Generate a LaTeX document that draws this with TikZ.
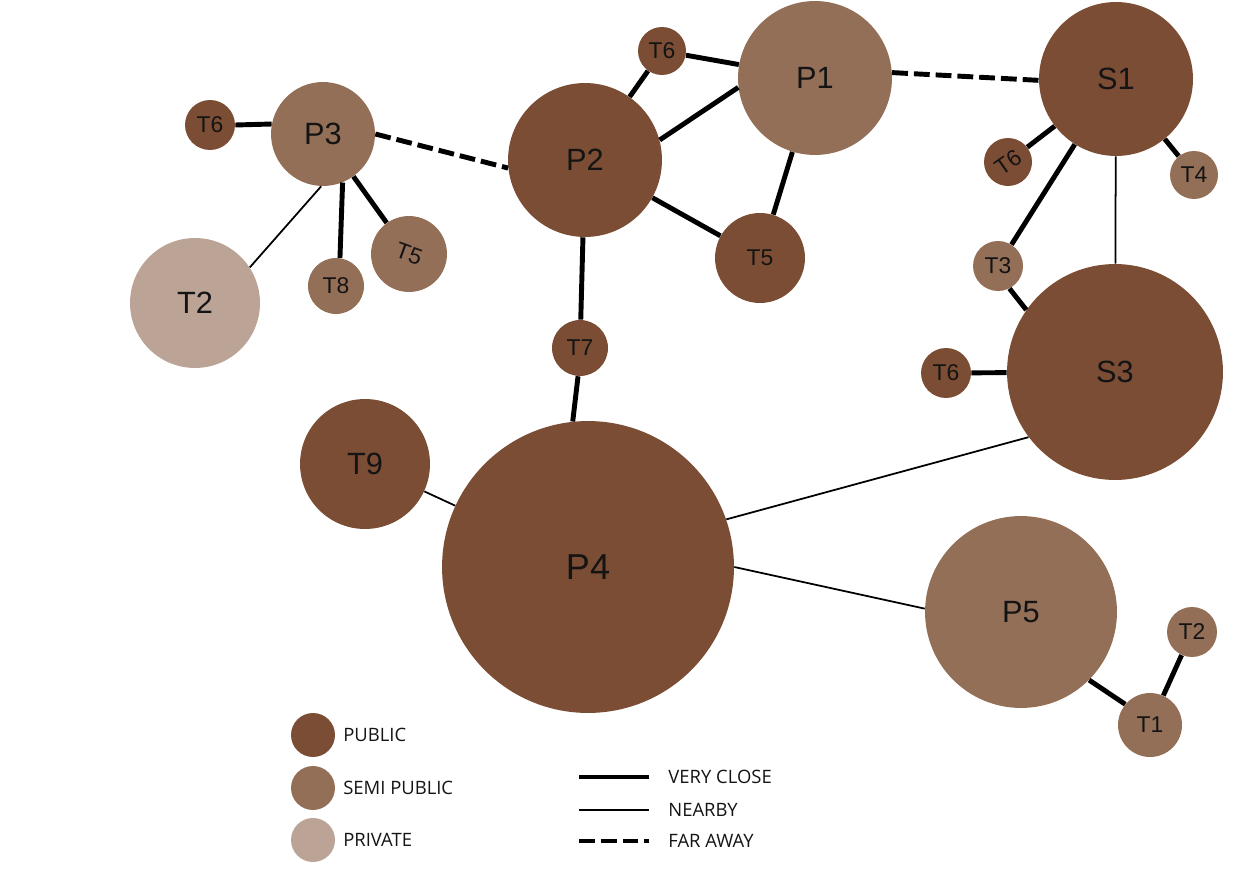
\documentclass[tikz,border=0pt]{standalone}
\usepackage{fontspec}
\setmainfont{Liberation Sans}
\newfontfamily\legendfont{Open Sans}
\usetikzlibrary{
    positioning
}
\definecolor{public}{HTML}{7B4D34}
\definecolor{semipublic}{HTML}{946F58}
\definecolor{private}{HTML}{BBA395}
\definecolor{ink}{HTML}{141414}

\begin{document}
\begin{tikzpicture}[x=0.02cm, y=-0.02cm,
    spot/.style={circle, inner sep=0pt, minimum size=#1*0.04cm, text=ink,
        font=\fontsize{13}{13}\selectfont},
    big/.style={font=\fontsize{17.5}{17.5}\selectfont},
    pub/.style={spot=#1, fill=public},
    semi/.style={spot=#1, fill=semipublic},
    priv/.style={spot=#1, fill=private},
    veryclose/.style={line width=2.8pt},
    nearby/.style={line width=1pt},
    faraway/.style={line width=2.8pt, dash pattern=on 9pt off 3.4pt},
    legend/.style={anchor=west, text=ink, font=\legendfont\fontsize{10.5}{10.5}\selectfont}]
                            \useasboundingbox (0,0) rectangle (1246,881);
                            \node[semi=77, big] (p1) at (815,78) {P1};
                            \node[pub=24] (t6a) at (662,51) {T6};
                            \node[pub=77, big] (p2) at (585,160) {P2};
                            \node[pub=77, big] (s1) at (1116,79) {S1};
                            \node[pub=24, rotate=35] (t6b) at (1008,162) {T6};
                            \node[semi=24] (t4) at (1194,175) {T4};
                            \node[semi=52, big] (p3) at (323,134) {P3};
                            \node[pub=25] (t6c) at (210,125) {T6};
                            \node[semi=38, rotate=-20] (t5a) at (409,254) {T5};
                            \node[semi=28] (t8) at (336,286) {T8};
                            \node[priv=65, big] (t2a) at (195,303) {T2};
                            \node[pub=45] (t5b) at (760,258) {T5};
                            \node[pub=28] (t7) at (580,348) {T7};
                            \node[semi=25] (t3) at (998,266) {T3};
                            \node[pub=108, big] (s3) at (1115,372) {S3};
                            \node[pub=25] (t6d) at (946,373) {T6};
                            \node[pub=65, big] (t9) at (365,464) {T9};
                            \node[pub=146, font=\fontsize{20.5}{20.5}\selectfont] (p4) at (588,567) {P4};
                            \node[semi=96, big] (p5) at (1021,612) {P5};
                            \node[semi=25] (t2b) at (1192,632) {T2};
                            \node[semi=32] (t1) at (1150,725) {T1};
                            \draw
                            (t6c.east) edge[veryclose] (p3.169)
                            (p3.292) edge[veryclose] (t8.82)
                            (p3) edge[veryclose] (t5a)
                            (p3.268) edge[nearby] (t2a.33)
                            (p3.east) edge[faraway] (p2.186)
                            (t6a) edge[veryclose] (p2)
                            (t6a) edge[veryclose] (p1)
                            (p2.15) edge[veryclose] (p1.187)
                            (p2) edge[veryclose] (t5b)
                            (p1) edge[veryclose] (t5b)
                            (p1.4) edge[faraway] (s1.181)
                            (s1) edge[veryclose] (t6b)
                            (s1) edge[veryclose] (t4)
                            (s1) edge[veryclose] (t3)
                            (s1) edge[nearby] (s3)
                            (t3.297) edge[veryclose] (s3.145)
                            (t6d) edge[veryclose] (s3)
                            (p2) edge[veryclose] (t7)
                            (t7.266) edge[veryclose] (p4.96)
                            (s3.217) edge[nearby] (p4.19)
                            (p4) edge[nearby] (t9)
                            (p4.east) edge[nearby] (p5.178)
                            (p5.315) edge[veryclose] (t1.140)
                            (t1) edge[veryclose] (t2b);
                            % legend
                            \node[pub=22] (lpub) at (313,735) {};
                            \node[semi=22] (lsemi) at (313,788) {};
                            \node[priv=22] (lpriv) at (313,840) {};
                            \node[legend, right=1pt of lpub] {PUBLIC};
                            \node[legend, right=1pt of lsemi] {SEMI PUBLIC};
                            \node[legend, right=1pt of lpriv] {PRIVATE};
                            \coordinate (vc0) at (579,777);
                            \coordinate (vc1) at (649,777);
                            \coordinate (nb0) at (579,810);
                            \coordinate (nb1) at (649,810);
                            \coordinate (fa0) at (579,841);
                            \coordinate (fa1) at (649,841);
                            \draw
                            (vc0) edge[veryclose] (vc1)
                            (nb0) edge[nearby] (nb1)
                            (fa0) edge[faraway] (fa1);
                            \node[legend, right=7.5pt of vc1] {VERY CLOSE};
                            \node[legend, right=7.5pt of nb1] {NEARBY};
                            \node[legend, right=7.5pt of fa1] {FAR AWAY};
                        \end{tikzpicture}
\end{document}
